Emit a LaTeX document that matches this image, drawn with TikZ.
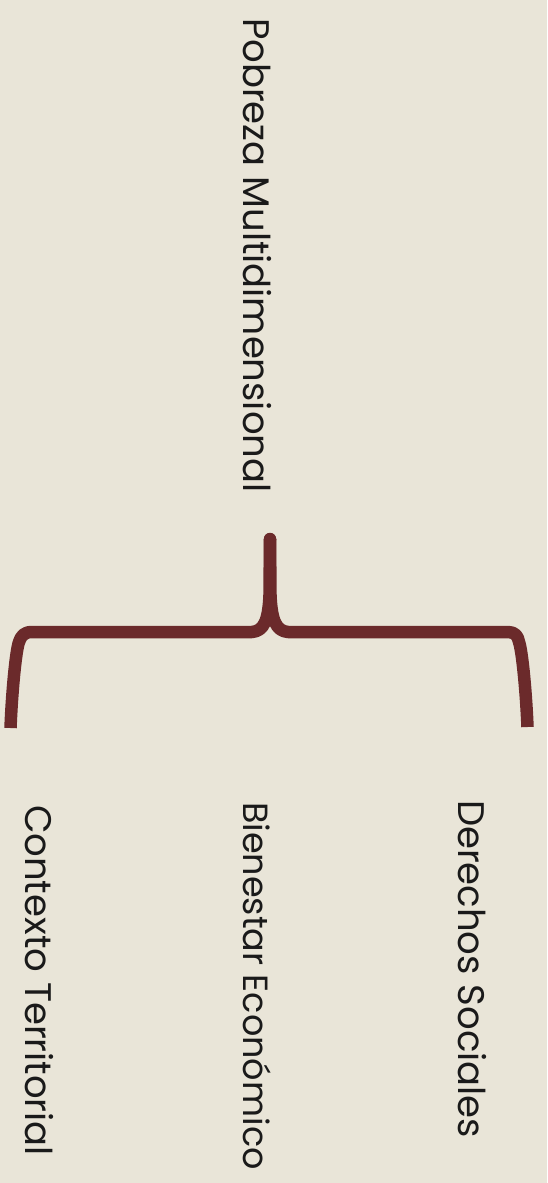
\documentclass[tikz,border=0pt]{standalone}
\usepackage{fontspec}
\setmainfont{Poppins}
\definecolor{bg}{HTML}{E9E5D8}
\definecolor{brace}{HTML}{6B2A2B}
\definecolor{ink}{HTML}{1A1A1A}
\tikzset{
  lbl/.style={rotate=-90, anchor=base west, inner sep=0pt, outer sep=0pt, text=ink, font=\fontsize{37}{41}\selectfont},
  bracestroke/.style={draw=brace, line width=12.5pt, line cap=butt, line join=round}
}
\begin{document}
\begin{tikzpicture}[x=1pt,y=-1pt]
\fill[bg] (0,0) rectangle (547,1183);
\useasboundingbox (0,0) rectangle (547,1183);
\node[lbl] (top) at (243,18) {Pobreza Multidimensional};
\node[lbl] (ct) at (25,805) {Contexto Territorial};
\node[lbl, font=\fontsize{35}{39}\selectfont] (be) at (243,802) {Bienestar Económico};
\node[lbl] (ds) at (458,800) {Derechos Sociales};
\coordinate (tip) at (270,539);
\coordinate (lend) at (10.5,728);
\coordinate (rend) at (527.5,727);
\draw[bracestroke] (lend) .. controls (12,690) and (16,650) .. (19,642)
  .. controls (21,636) and (24,632) .. (32,632) -- (252,632)
  .. controls (264,631) and (268.5,620) .. (269.5,595) -- (tip);
\draw[bracestroke] (tip) -- (270.5,595) .. controls (271.5,620) and (276,631) .. (288,632) -- (508,632)
  .. controls (515,632) and (518,636) .. (519,642)
  .. controls (522,650) and (526,690) .. (rend);
\fill[brace] (tip) circle (6.25pt);
\end{tikzpicture}
\end{document}
